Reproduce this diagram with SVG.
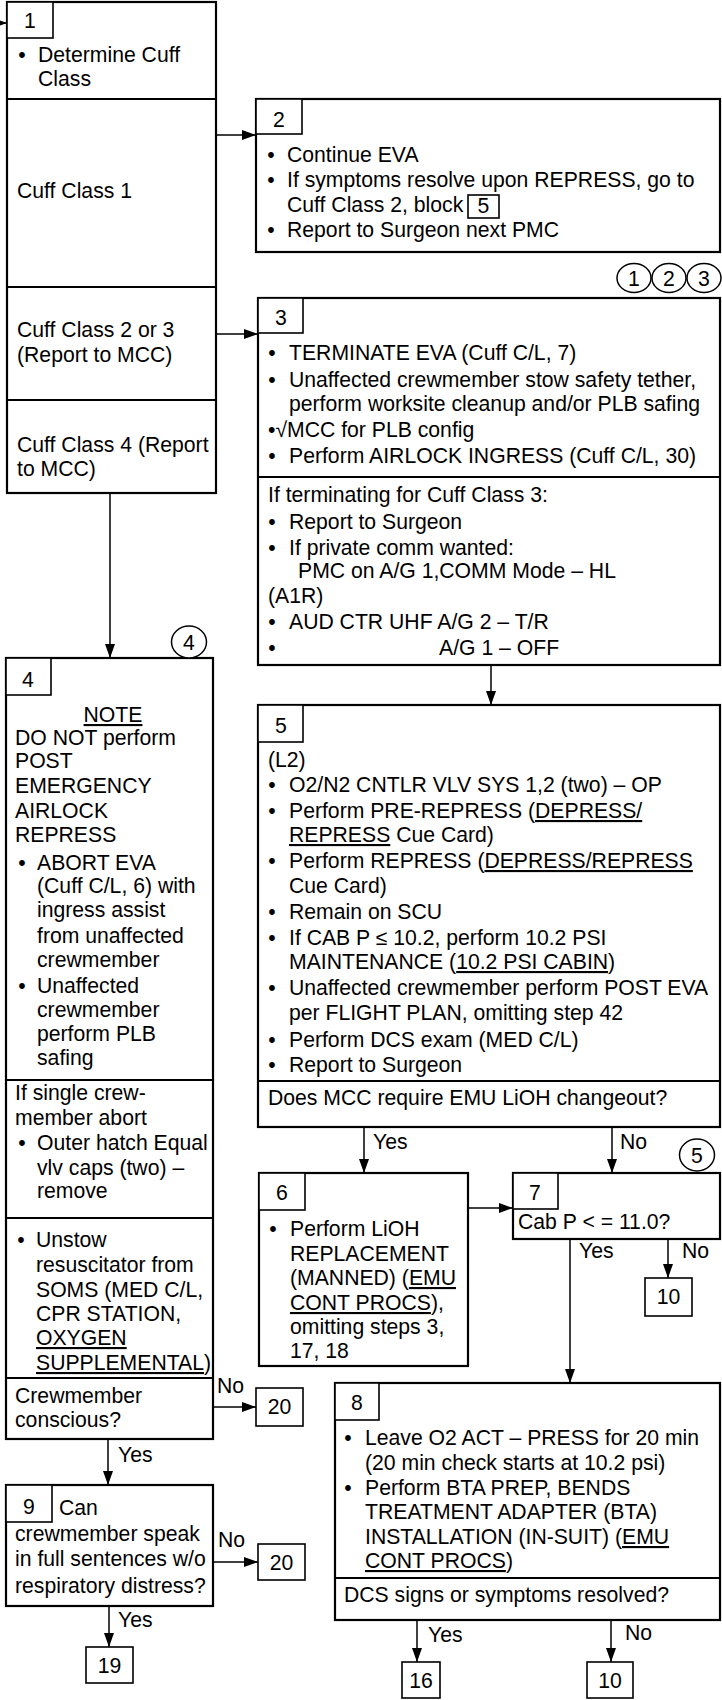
<svg xmlns="http://www.w3.org/2000/svg" width="722" height="1700" viewBox="0 0 722 1700">
<defs>
<style>
text{font-family:"Liberation Sans",Arial,sans-serif;font-size:21.2px;fill:#000}
.box{fill:#fff;stroke:#000;stroke-width:2.2}
.tab{fill:#fff;stroke:#000;stroke-width:1.6}
.div{stroke:#000;stroke-width:2}
.con{stroke:#000;stroke-width:1.5;fill:none}
.ref{fill:#fff;stroke:#000;stroke-width:1.6}
.circ{fill:#fff;stroke:#000;stroke-width:1.5}
.c{text-anchor:middle}
.u{text-decoration:underline}
</style>
<marker id="ah" markerUnits="userSpaceOnUse" markerWidth="14" markerHeight="10" refX="14" refY="5" orient="auto">
<path d="M0,0 L14,5 L0,10 z" fill="#000"/>
</marker>
</defs>
<rect width="722" height="1700" fill="#fff"/>

<g id="connectors">
<line class="con" x1="0" y1="23" x2="7" y2="23" marker-end="url(#ah)"/>
<line class="con" x1="216" y1="135" x2="256" y2="135" marker-end="url(#ah)"/>
<line class="con" x1="216" y1="334" x2="258" y2="334" marker-end="url(#ah)"/>
<line class="con" x1="110" y1="493" x2="110" y2="658" marker-end="url(#ah)"/>
<line class="con" x1="491" y1="665" x2="491" y2="705" marker-end="url(#ah)"/>
<line class="con" x1="364" y1="1127" x2="364" y2="1173" marker-end="url(#ah)"/>
<text x="373" y="1149">Yes</text>
<line class="con" x1="612" y1="1127" x2="612" y2="1173" marker-end="url(#ah)"/>
<text x="620" y="1149">No</text>
<line class="con" x1="468" y1="1208" x2="513" y2="1208" marker-end="url(#ah)"/>
<line class="con" x1="570" y1="1239" x2="570" y2="1383" marker-end="url(#ah)"/>
<text x="579" y="1258">Yes</text>
<line class="con" x1="668" y1="1239" x2="668" y2="1278" marker-end="url(#ah)"/>
<text x="682" y="1258">No</text>
<line class="con" x1="213" y1="1407" x2="256" y2="1407" marker-end="url(#ah)"/>
<text x="217" y="1393">No</text>
<line class="con" x1="108" y1="1439" x2="108" y2="1485" marker-end="url(#ah)"/>
<text x="118" y="1462">Yes</text>
<line class="con" x1="213" y1="1562" x2="258" y2="1562" marker-end="url(#ah)"/>
<text x="218" y="1547">No</text>
<line class="con" x1="109" y1="1606" x2="109" y2="1647" marker-end="url(#ah)"/>
<text x="118" y="1627">Yes</text>
<line class="con" x1="417" y1="1620" x2="417" y2="1662" marker-end="url(#ah)"/>
<text x="428" y="1642">Yes</text>
<line class="con" x1="611" y1="1620" x2="611" y2="1662" marker-end="url(#ah)"/>
<text x="625" y="1640">No</text>
</g>

<g id="node1">
<rect class="box" x="7" y="2" width="209" height="491"/>
<rect class="tab" x="7" y="2" width="46" height="36"/>
<text class="c" x="30" y="28">1</text>
<text class="c" x="22" y="62">•</text>
<text x="38" y="62">Determine Cuff</text>
<text x="38" y="86">Class</text>
<line class="div" x1="7" y1="99" x2="216" y2="99"/>
<text x="17" y="198">Cuff Class 1</text>
<line class="div" x1="7" y1="287" x2="216" y2="287"/>
<text x="17" y="337">Cuff Class 2 or 3</text>
<text x="17" y="362">(Report to MCC)</text>
<line class="div" x1="7" y1="400" x2="216" y2="400"/>
<text x="17" y="452">Cuff Class 4 (Report</text>
<text x="17" y="476">to MCC)</text>
</g>

<g id="node2">
<rect class="box" x="256" y="99" width="464" height="153"/>
<rect class="tab" x="256" y="99" width="46" height="35"/>
<text class="c" x="279" y="127">2</text>
<text class="c" x="271" y="162">•</text>
<text x="287" y="162">Continue EVA</text>
<text class="c" x="271" y="187">•</text>
<text x="287" y="187">If symptoms resolve upon REPRESS, go to</text>
<text x="287" y="212">Cuff Class 2, block</text>
<rect class="ref" x="468" y="195" width="31" height="23"/>
<text class="c" x="483.5" y="213">5</text>
<text class="c" x="271" y="237">•</text>
<text x="287" y="237">Report to Surgeon next PMC</text>
</g>

<g id="marker123">
<ellipse class="circ" cx="634" cy="278" rx="17" ry="14.5"/>
<text class="c" x="634" y="286">1</text>
<ellipse class="circ" cx="669" cy="278" rx="17" ry="14.5"/>
<text class="c" x="669" y="286">2</text>
<ellipse class="circ" cx="704" cy="278" rx="17" ry="14.5"/>
<text class="c" x="704" y="286">3</text>
</g>

<g id="node3">
<rect class="box" x="258" y="298" width="462" height="367"/>
<rect class="tab" x="258" y="298" width="45" height="35"/>
<text class="c" x="281" y="325">3</text>
<text class="c" x="272" y="360">•</text>
<text x="289" y="360">TERMINATE EVA (Cuff C/L, 7)</text>
<text class="c" x="272" y="387">•</text>
<text x="289" y="387">Unaffected crewmember stow safety tether,</text>
<text x="289" y="411">perform worksite cleanup and/or PLB safing</text>
<text x="268" y="437">•√MCC for PLB config</text>
<text class="c" x="272" y="463">•</text>
<text x="289" y="463">Perform AIRLOCK INGRESS (Cuff C/L, 30)</text>
<line class="div" x1="258" y1="477" x2="720" y2="477"/>
<text x="268" y="502">If terminating for Cuff Class 3:</text>
<text class="c" x="272" y="529">•</text>
<text x="289" y="529">Report to Surgeon</text>
<text class="c" x="272" y="555">•</text>
<text x="289" y="555">If private comm wanted:</text>
<text x="298" y="578">PMC on A/G 1,COMM Mode – HL</text>
<text x="268" y="603">(A1R)</text>
<text class="c" x="272" y="629">•</text>
<text x="289" y="629">AUD CTR UHF A/G 2 – T/R</text>
<text class="c" x="272" y="655">•</text>
<text x="439" y="655">A/G 1 – OFF</text>
</g>

<g id="node4">
<rect class="box" x="6" y="658" width="207" height="781"/>
<rect class="tab" x="6" y="658" width="45" height="37"/>
<text class="c" x="28" y="687">4</text>
<text class="c" x="113" y="722"><tspan class="u">NOTE</tspan></text>
<text x="15" y="745">DO NOT perform</text>
<text x="15" y="768">POST</text>
<text x="15" y="793">EMERGENCY</text>
<text x="15" y="818">AIRLOCK</text>
<text x="15" y="842">REPRESS</text>
<text class="c" x="22" y="870">•</text>
<text x="37" y="870">ABORT EVA</text>
<text x="37" y="893">(Cuff C/L, 6) with</text>
<text x="37" y="917">ingress assist</text>
<text x="37" y="943">from unaffected</text>
<text x="37" y="967">crewmember</text>
<text class="c" x="22" y="993">•</text>
<text x="37" y="993">Unaffected</text>
<text x="37" y="1017">crewmember</text>
<text x="37" y="1041">perform PLB</text>
<text x="37" y="1065">safing</text>
<line class="div" x1="6" y1="1080" x2="213" y2="1080"/>
<text x="15" y="1100">If single crew-</text>
<text x="15" y="1125">member abort</text>
<text class="c" x="22" y="1150">•</text>
<text x="37" y="1150">Outer hatch Equal</text>
<text x="37" y="1175">vlv caps (two) –</text>
<text x="37" y="1198">remove</text>
<line class="div" x1="6" y1="1218" x2="213" y2="1218"/>
<text class="c" x="21" y="1247">•</text>
<text x="36" y="1247">Unstow</text>
<text x="36" y="1272">resuscitator from</text>
<text x="36" y="1297">SOMS (MED C/L,</text>
<text x="36" y="1321">CPR STATION,</text>
<text x="36" y="1345"><tspan class="u">OXYGEN</tspan></text>
<text x="36" y="1370"><tspan class="u">SUPPLEMENTAL</tspan>)</text>
<line class="div" x1="6" y1="1378" x2="213" y2="1378"/>
<text x="15" y="1403">Crewmember</text>
<text x="15" y="1427">conscious?</text>
</g>

<g id="marker4">
<ellipse class="circ" cx="189" cy="642" rx="17.5" ry="16"/>
<text class="c" x="189" y="650">4</text>
</g>

<g id="node5">
<rect class="box" x="258" y="705" width="462" height="422"/>
<rect class="tab" x="258" y="705" width="45" height="37"/>
<text class="c" x="281" y="733">5</text>
<text x="268" y="767">(L2)</text>
<text class="c" x="272" y="792">•</text>
<text x="289" y="792">O2/N2 CNTLR VLV SYS 1,2 (two) – OP</text>
<text class="c" x="272" y="818">•</text>
<text x="289" y="818">Perform PRE-REPRESS (<tspan class="u">DEPRESS/</tspan></text>
<text x="289" y="842"><tspan class="u">REPRESS</tspan> Cue Card)</text>
<text class="c" x="272" y="868">•</text>
<text x="289" y="868">Perform REPRESS (<tspan class="u">DEPRESS/REPRESS</tspan></text>
<text x="289" y="893">Cue Card)</text>
<text class="c" x="272" y="919">•</text>
<text x="289" y="919">Remain on SCU</text>
<text class="c" x="272" y="945">•</text>
<text x="289" y="945">If CAB P ≤ 10.2, perform 10.2 PSI</text>
<text x="289" y="969">MAINTENANCE (<tspan class="u">10.2 PSI CABIN</tspan>)</text>
<text class="c" x="272" y="995">•</text>
<text x="289" y="995">Unaffected crewmember perform POST EVA</text>
<text x="289" y="1020">per FLIGHT PLAN, omitting step 42</text>
<text class="c" x="272" y="1047">•</text>
<text x="289" y="1047">Perform DCS exam (MED C/L)</text>
<text class="c" x="272" y="1072">•</text>
<text x="289" y="1072">Report to Surgeon</text>
<line class="div" x1="258" y1="1081" x2="720" y2="1081"/>
<text x="268" y="1105">Does MCC require EMU LiOH changeout?</text>
</g>

<g id="node6">
<rect class="box" x="259" y="1173" width="209" height="193"/>
<rect class="tab" x="259" y="1173" width="46" height="37"/>
<text class="c" x="282" y="1200">6</text>
<text class="c" x="273" y="1236">•</text>
<text x="290" y="1236">Perform LiOH</text>
<text x="290" y="1261">REPLACEMENT</text>
<text x="290" y="1285">(MANNED) (<tspan class="u">EMU</tspan></text>
<text x="290" y="1310"><tspan class="u">CONT PROCS</tspan>),</text>
<text x="290" y="1334">omitting steps 3,</text>
<text x="290" y="1358">17, 18</text>
</g>

<g id="node7">
<rect class="box" x="513" y="1173" width="207" height="66"/>
<rect class="tab" x="513" y="1173" width="45" height="36"/>
<text class="c" x="535" y="1200">7</text>
<text x="518" y="1229">Cab P &lt; = 11.0?</text>
</g>

<g id="marker5">
<ellipse class="circ" cx="697" cy="1155" rx="17.5" ry="16"/>
<text class="c" x="697" y="1163">5</text>
</g>

<g id="node10a">
<rect class="ref" x="645" y="1278" width="47" height="38"/>
<text class="c" x="668.5" y="1304">10</text>
</g>

<g id="node8">
<rect class="box" x="335" y="1383" width="385" height="237"/>
<rect class="tab" x="335" y="1383" width="44" height="37"/>
<text class="c" x="357" y="1410">8</text>
<text class="c" x="348" y="1445">•</text>
<text x="365" y="1445">Leave O2 ACT – PRESS for 20 min</text>
<text x="365" y="1470">(20 min check starts at 10.2 psi)</text>
<text class="c" x="348" y="1495">•</text>
<text x="365" y="1495">Perform BTA PREP, BENDS</text>
<text x="365" y="1519">TREATMENT ADAPTER (BTA)</text>
<text x="365" y="1544">INSTALLATION (IN-SUIT) (<tspan class="u">EMU</tspan></text>
<text x="365" y="1568"><tspan class="u">CONT PROCS</tspan>)</text>
<line class="div" x1="335" y1="1578" x2="720" y2="1578"/>
<text x="344" y="1602">DCS signs or symptoms resolved?</text>
</g>

<g id="node20a">
<rect class="ref" x="256" y="1388" width="47" height="38"/>
<text class="c" x="279.5" y="1414">20</text>
</g>

<g id="node9">
<rect class="box" x="6" y="1485" width="207" height="121"/>
<rect class="tab" x="6" y="1485" width="46" height="37"/>
<text class="c" x="29" y="1514">9</text>
<text x="59" y="1515">Can</text>
<text x="15" y="1541">crewmember speak</text>
<text x="15" y="1566">in full sentences w/o</text>
<text x="15" y="1593">respiratory distress?</text>
</g>

<g id="node20b">
<rect class="ref" x="258" y="1544" width="47" height="36"/>
<text class="c" x="281.5" y="1570">20</text>
</g>

<g id="node19">
<rect class="ref" x="86" y="1647" width="47" height="36"/>
<text class="c" x="109.5" y="1673">19</text>
</g>

<g id="node16">
<rect class="ref" x="402" y="1662" width="38" height="36"/>
<text class="c" x="421" y="1688">16</text>
</g>

<g id="node10b">
<rect class="ref" x="587" y="1662" width="46" height="36"/>
<text class="c" x="610" y="1688">10</text>
</g>
</svg>
